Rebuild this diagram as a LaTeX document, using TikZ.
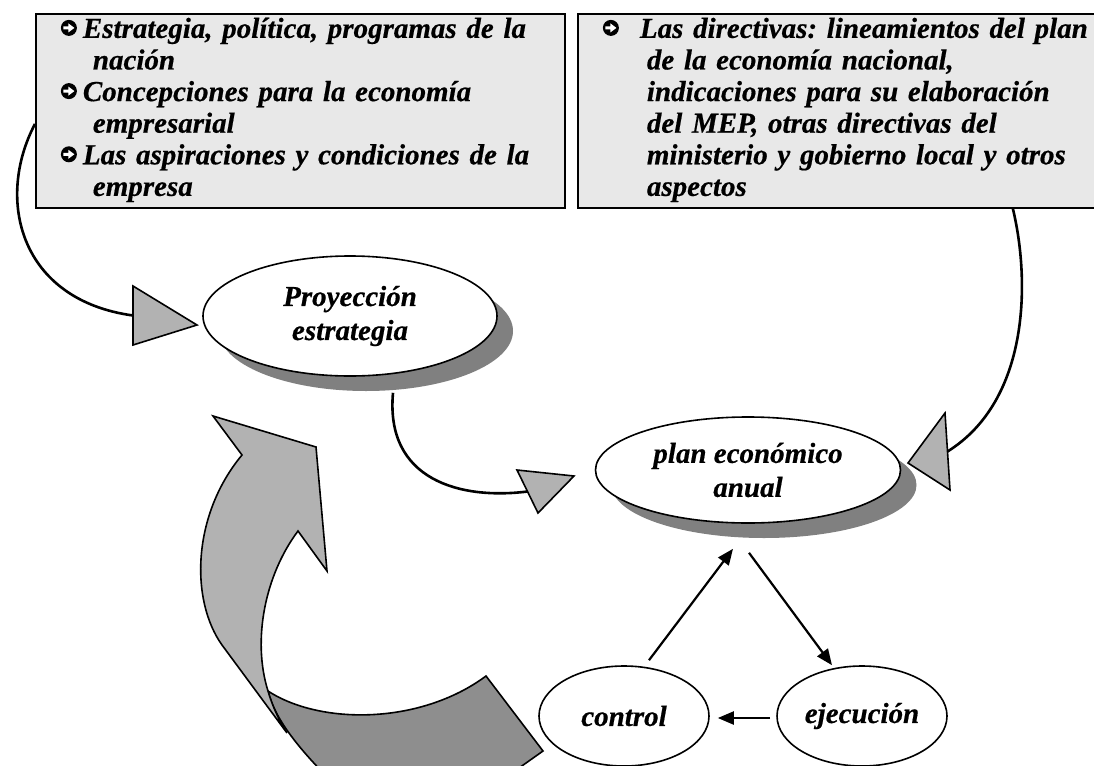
\documentclass[tikz,border=0pt]{standalone}
\usepackage{fontspec}
\setmainfont{Liberation Serif}[BoldItalicFeatures={FakeBold=0.5}]
\usetikzlibrary{shapes.geometric,shadows,arrows.meta}
\definecolor{boxfill}{HTML}{E8E8E8}
\definecolor{frontgray}{HTML}{B2B2B2}
\definecolor{backgray}{HTML}{8E8E8E}
\newsavebox{\bulletbox}
\newcommand{\bulletmark}[1]{\makebox[#1][l]{\usebox{\bulletbox}}}
\newcommand{\boxtopstrut}{\rule{0pt}{24pt}}
\newcommand{\boxbotstrut}{\rule[-12pt]{0pt}{12pt}}
\frenchspacing

\begin{document}
\sbox{\bulletbox}{\begin{pgfpicture}
    \pgfsetbaseline{0pt}
    \pgfpathcircle{\pgfpoint{8pt}{10pt}}{8pt}\pgfusepath{fill}
    \pgfsetfillcolor{white}
    \pgfpathrectangle{\pgfpoint{2.5pt}{8.5pt}}{\pgfpoint{6pt}{3pt}}
    \pgfpathmoveto{\pgfpoint{7.5pt}{5.5pt}}\pgfpathlineto{\pgfpoint{13.5pt}{10pt}}\pgfpathlineto{\pgfpoint{7.5pt}{14.5pt}}\pgfpathclose
    \pgfusepath{fill}
\end{pgfpicture}}
\begin{tikzpicture}[x=1pt,y=-1pt,
    infobox/.style={draw, line width=1.8pt, fill=boxfill, anchor=north west, inner ysep=0pt, align=left, font=\fontsize{29}{31.6}\selectfont\bfseries\itshape},
    stage/.style={ellipse, draw, line width=1.6pt, fill=white, inner sep=0pt, align=center, font=\fontsize{29}{34}\selectfont\bfseries\itshape},
    castshadow/.style={drop shadow={shadow xshift=16pt, shadow yshift=-15pt, fill=black!50, opacity=1}},
    link/.style={line width=2.6pt},
    headtri/.style={draw, line width=1.6pt, fill=frontgray, line join=miter},
    band/.style={draw, line width=1.6pt, line join=miter},
    flow/.style={line width=2.2pt, -{Triangle[length=16pt,width=13pt]}}]
        \path[fill=white] (0,0) rectangle (1094,765);
        \useasboundingbox (0,0) rectangle (1094,765);

        \draw[band, fill=backgray] (268,691) .. controls (320,725) and (420,725) .. (486,676) -- (543,751) -- (495,785) -- (335,785) .. controls (300,750) and (275,720) .. (268,691) -- cycle;
        \draw[band, fill=frontgray] (213,416) -- (316,447) -- (327,571) -- (298,531) .. controls (265,575) and (252,640) .. (268,691) .. controls (273,708) and (280,722) .. (287,733) -- (222,645) .. controls (190,600) and (192,515) .. (242,455) -- cycle;

        \node[infobox, inner xsep=25pt, text width=479pt] (ideas) at (35,13) {\boxtopstrut\bulletmark{22pt}Estrategia, política, programas de la\\\hspace*{32pt}nación\\\bulletmark{22pt}Concepciones para la economía\\\hspace*{32pt}empresarial\\\bulletmark{22pt}Las aspiraciones y condiciones de la\\\hspace*{32pt}empresa\boxbotstrut};
        \node[infobox, inner xsep=25pt, text width=520pt] (rules) at (577,13) {\boxtopstrut\bulletmark{37pt}Las directivas: lineamientos del plan\\\hspace*{44pt}de la economía nacional,\\\hspace*{44pt}indicaciones para su elaboración\\\hspace*{44pt}del MEP, otras directivas del\\\hspace*{44pt}ministerio y gobierno local y otros\\\hspace*{44pt}aspectos\boxbotstrut};

        \node[stage, castshadow, minimum width=294pt, minimum height=120pt] (proy) at (350,316) {Proyección\\estrategia};
        \node[stage, castshadow, minimum width=305pt, minimum height=106pt] (plan) at (748,470) {plan económico\\anual};
        \node[stage, minimum width=170pt, minimum height=100pt] (ctrl) at (624,716) {control};
        \node[stage, minimum width=170pt, minimum height=100pt] (ejec) at (862,716) {ejecución};

        \coordinate (headA) at (133,315.5);
        \coordinate (headB) at (527.5,491.5);
        \coordinate (headC) at (947.5,451.5);

        \draw[link] ([shift={(0,13)}]ideas.west) .. controls (-5,200) and (20,300) .. (headA);
        \draw[link] ([shift={(43,16)}]proy.south) .. controls (385,480) and (460,500) .. (headB);
        \draw[link] ([shift={(150,0)}]rules.south) .. controls (1030,280) and (1030,400) .. (headC);

        \draw[headtri] (133,286) -- (197,325) -- (133,345) -- cycle;
        \draw[headtri] (517,470) -- (574,476) -- (538,513) -- cycle;
        \draw[headtri] (945,413) -- (908,463) -- (950,490) -- cycle;

        \draw[flow] ([shift={(25,-5)}]ctrl.north) -- ([shift={(-15,25)}]plan.south);
        \draw[flow] ([shift={(1,29)}]plan.south) -- ([shift={(-30,0)}]ejec.north);
        \draw[flow] ([shift={(-6,2)}]ejec.west) -- ([shift={(8,2)}]ctrl.east);
\end{tikzpicture}
\end{document}
